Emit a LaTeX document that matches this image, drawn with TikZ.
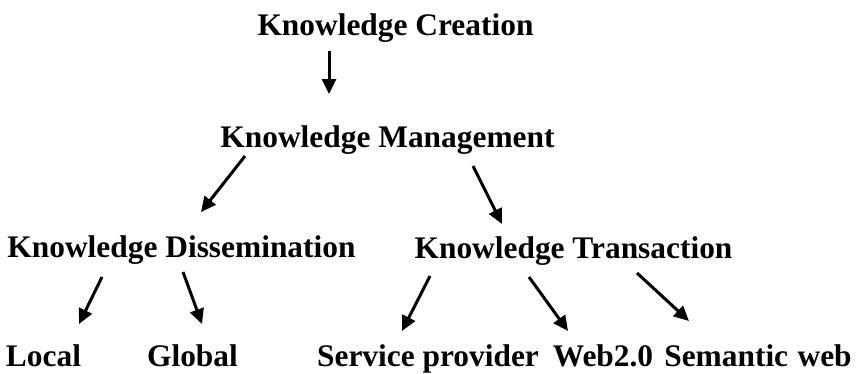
\documentclass[tikz,border=0pt]{standalone}
\usepackage{fontspec}
\setmainfont{Liberation Serif}
\usetikzlibrary{arrows.meta}
\tikzset{
  lbl/.style={inner sep=0pt, anchor=base, font=\fontsize{31.4}{34}\selectfont\bfseries},
  arr/.style={line width=3pt, -{Triangle[length=15pt,width=14pt]}}
}
\begin{document}
\begin{tikzpicture}[x=1pt,y=-1pt]
\useasboundingbox (0,0) rectangle (859,373);
\node[lbl] (kc) at (395.5,35) {Knowledge Creation};
\node[lbl] (km) at (387.5,147) {Knowledge Management};
\node[lbl] (kd) at (181.5,257) {Knowledge Dissemination};
\node[lbl] (kt) at (573.5,258) {Knowledge Transaction};
\node[lbl] (lo) at (43.5,366) {Local};
\node[lbl] (gl) at (192.5,366) {Global};
\node[lbl] (sp) at (428,366) {Service provider};
\node[lbl] (w2) at (603,366) {Web2.0};
\node[lbl] (sw) at (758,366) {Semantic\hspace{0.3em}web};
% arrow end points
\coordinate (a1s) at (329,51);  \coordinate (a1e) at (329,94);
\coordinate (a2s) at (245,156); \coordinate (a2e) at (201,212);
\coordinate (a3s) at (473,166); \coordinate (a3e) at (502,224);
\coordinate (a4s) at (102,277); \coordinate (a4e) at (79,324);
\coordinate (a5s) at (183,272); \coordinate (a5e) at (202,324);
\coordinate (a6s) at (430,276); \coordinate (a6e) at (402,331);
\coordinate (a7s) at (529,277); \coordinate (a7e) at (568,331);
\coordinate (a8s) at (637,273); \coordinate (a8e) at (689,321);
\draw[arr] (a1s) -- (a1e);
\draw[arr] (a2s) -- (a2e);
\draw[arr] (a3s) -- (a3e);
\draw[arr] (a4s) -- (a4e);
\draw[arr] (a5s) -- (a5e);
\draw[arr] (a6s) -- (a6e);
\draw[arr] (a7s) -- (a7e);
\draw[arr] (a8s) -- (a8e);
\end{tikzpicture}
\end{document}
